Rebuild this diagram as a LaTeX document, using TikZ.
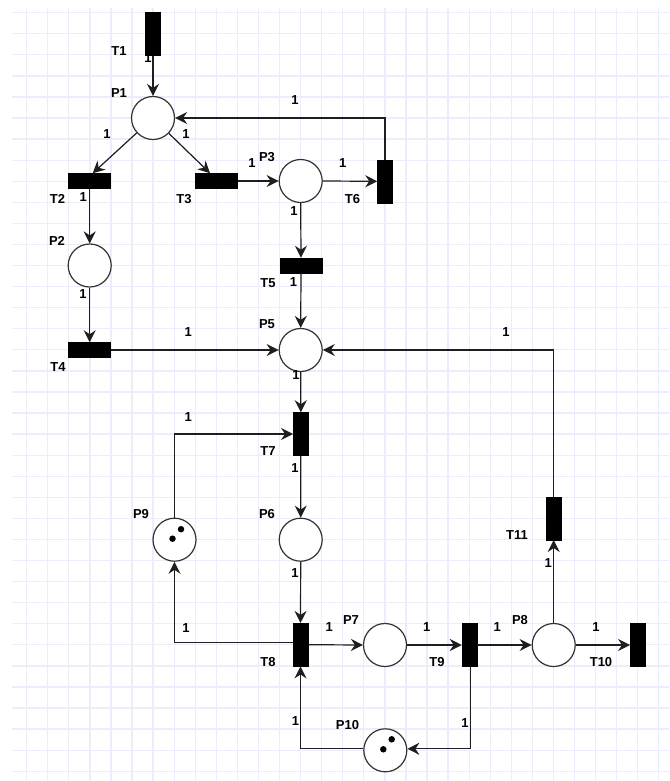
\documentclass[tikz,border=0pt]{standalone}
\usepackage{fontspec}
\setmainfont{Liberation Sans}
\usetikzlibrary{arrows.meta}
\definecolor{gridc}{RGB}{236,236,252}
\definecolor{linec}{RGB}{30,30,30}
\definecolor{circc}{RGB}{50,50,50}
\tikzset{
  place/.style={circle,draw=circc,line width=1.2pt,fill=white,inner sep=0pt,minimum size=43pt},
  htrans/.style={rectangle,fill=black,draw=black,line width=0.5pt,inner sep=0pt,minimum width=42pt,minimum height=15pt},
  vtrans/.style={rectangle,fill=black,draw=black,line width=0.5pt,inner sep=0pt,minimum width=15pt,minimum height=43pt},
  lbl/.style={inner sep=0pt,font=\fontsize{13}{15}\selectfont\bfseries,text=black},
  arc/.style={draw=linec,line width=1.2pt,-{Stealth[length=12pt,width=12pt,inset=4pt]}},
  token/.style={circle,fill=black,inner sep=0pt,minimum size=6.5pt},
}
\begin{document}
\begin{tikzpicture}[x=1pt,y=-1pt]
\useasboundingbox (0,0) rectangle (669,781);
\fill[white] (0,0) rectangle (669,781);
% grid
\foreach \i in {0,...,30} {\draw[gridc,line width=1.3pt] (26.7+21.07*\i,8) -- (26.7+21.07*\i,781);}
\foreach \j in {0,...,36} {\draw[gridc,line width=1.3pt] (12,12.7+21.07*\j) -- (669,12.7+21.07*\j);}
% places
\node[place] (P1) at (153,118) {};
\node[place] (P2) at (89.7,265.5) {};
\node[place] (P3) at (300.7,181) {};
\node[place] (P5) at (300.7,350) {};
\node[place] (P6) at (300.7,539.7) {};
\node[place] (P9) at (174.5,539.7) {};
\node[place] (P7) at (385,645) {};
\node[place] (P8) at (553.7,645) {};
\node[place] (P10) at (385.3,750.3) {};
% tokens
\node[token] (k1) at (172.5,538.7) {};
\node[token] (k2) at (181,529.2) {};
\node[token] (k3) at (383.3,749.3) {};
\node[token] (k4) at (391.7,739.3) {};
% transitions
\node[vtrans] (T1) at (153,34) {};
\node[htrans] (T2) at (89.7,181) {};
\node[htrans] (T3) at (216.7,181) {};
\node[vtrans] (T6) at (385,181.3) {};
\node[htrans] (T5) at (301,265.5) {};
\node[htrans] (T4) at (89.7,350) {};
\node[vtrans] (T7) at (300.8,434) {};
\node[vtrans] (T8) at (300.5,644.7) {};
\node[vtrans] (T9) at (469.5,645) {};
\node[vtrans] (T10) at (637.8,645) {};
\node[vtrans] (T11) at (553.7,518.3) {};
% arcs
\draw[arc] (T1.south) -- (P1.north);
\draw[arc] (P1) -- ([xshift=3pt]T2.north);
\draw[arc] (P1) -- ([xshift=-6.7pt]T3.north);
\draw[arc] (T3.east) -- (P3.west);
\draw[arc] (P3.east) -- (T6.west);
\draw[arc] (T6.north) |- (P1.east);
\draw[arc] (P3.south) -- (T5.north);
\draw[arc] (T2.south) -- (P2.north);
\draw[arc] (P2.south) -- (T4.north);
\draw[arc] (T4.east) -- (P5.west);
\draw[arc] (T5.south) -- (P5.north);
\draw[arc] (P5.south) -- (T7.north);
\draw[arc] (P9.north) |- (T7.west);
\draw[arc] (T7.south) -- (P6.north);
\draw[arc] (P6.south) -- (T8.north);
\draw[arc] ([yshift=2pt]T8.west) -| (P9.south);
\draw[arc] (T8.east) -- (P7.west);
\draw[arc] (P7.east) -- (T9.west);
\draw[arc] (T9.east) -- (P8.west);
\draw[arc] (P8.east) -- (T10.west);
\draw[arc] (P8.north) -- (T11.south);
\draw[arc] (T11.north) |- (P5.east);
\draw[arc] ([xshift=1pt]T9.south) |- ([yshift=1.5pt]P10.east);
\draw[arc] ([yshift=1.5pt]P10.west) -| (T8.south);
% node labels
\node[lbl] (lT1) at (119,51) {T1};
\node[lbl] (lP1) at (119,93) {P1};
\node[lbl] (lT2) at (57.5,199) {T2};
\node[lbl] (lT3) at (184,199) {T3};
\node[lbl] (lP3) at (267,157) {P3};
\node[lbl] (lT6) at (352.5,199) {T6};
\node[lbl] (lP2) at (57,241) {P2};
\node[lbl] (lT5) at (268,283) {T5};
\node[lbl] (lP5) at (267,324) {P5};
\node[lbl] (lT4) at (58,367.5) {T4};
\node[lbl] (lT7) at (268,451) {T7};
\node[lbl] (lP9) at (141,514.5) {P9};
\node[lbl] (lP6) at (267,514.5) {P6};
\node[lbl] (lT8) at (268,662) {T8};
\node[lbl] (lP7) at (351,620) {P7};
\node[lbl] (lT9) at (437,662) {T9};
\node[lbl] (lP8) at (520,620) {P8};
\node[lbl] (lT10) at (601,662) {T10};
\node[lbl] (lT11) at (517,535.5) {T11};
\node[lbl] (lP10) at (347.5,725) {P10};
% arc weights
\node[lbl] (w1) at (148,58) {1};
\node[lbl] (w2) at (107,134.5) {1};
\node[lbl] (w3) at (186,134.5) {1};
\node[lbl] (w4) at (295,100) {1};
\node[lbl] (w5) at (83.3,197) {1};
\node[lbl] (w6) at (252,163) {1};
\node[lbl] (w7) at (342.7,163) {1};
\node[lbl] (w8) at (294,211) {1};
\node[lbl] (w9) at (293.5,282) {1};
\node[lbl] (w10) at (83,294.5) {1};
\node[lbl] (w11) at (188.3,331.7) {1};
\node[lbl] (w12) at (296,375) {1};
\node[lbl] (w13) at (506,331.7) {1};
\node[lbl] (w14) at (188.3,417.3) {1};
\node[lbl] (w15) at (295,468.3) {1};
\node[lbl] (w16) at (295,573) {1};
\node[lbl] (w17) at (548.3,563.3) {1};
\node[lbl] (w18) at (186,628.3) {1};
\node[lbl] (w19) at (329.3,626.7) {1};
\node[lbl] (w20) at (426.7,626.7) {1};
\node[lbl] (w21) at (497.3,626.7) {1};
\node[lbl] (w22) at (596,626.7) {1};
\node[lbl] (w23) at (295.5,721) {1};
\node[lbl] (w24) at (465,723.3) {1};
\end{tikzpicture}
\end{document}
